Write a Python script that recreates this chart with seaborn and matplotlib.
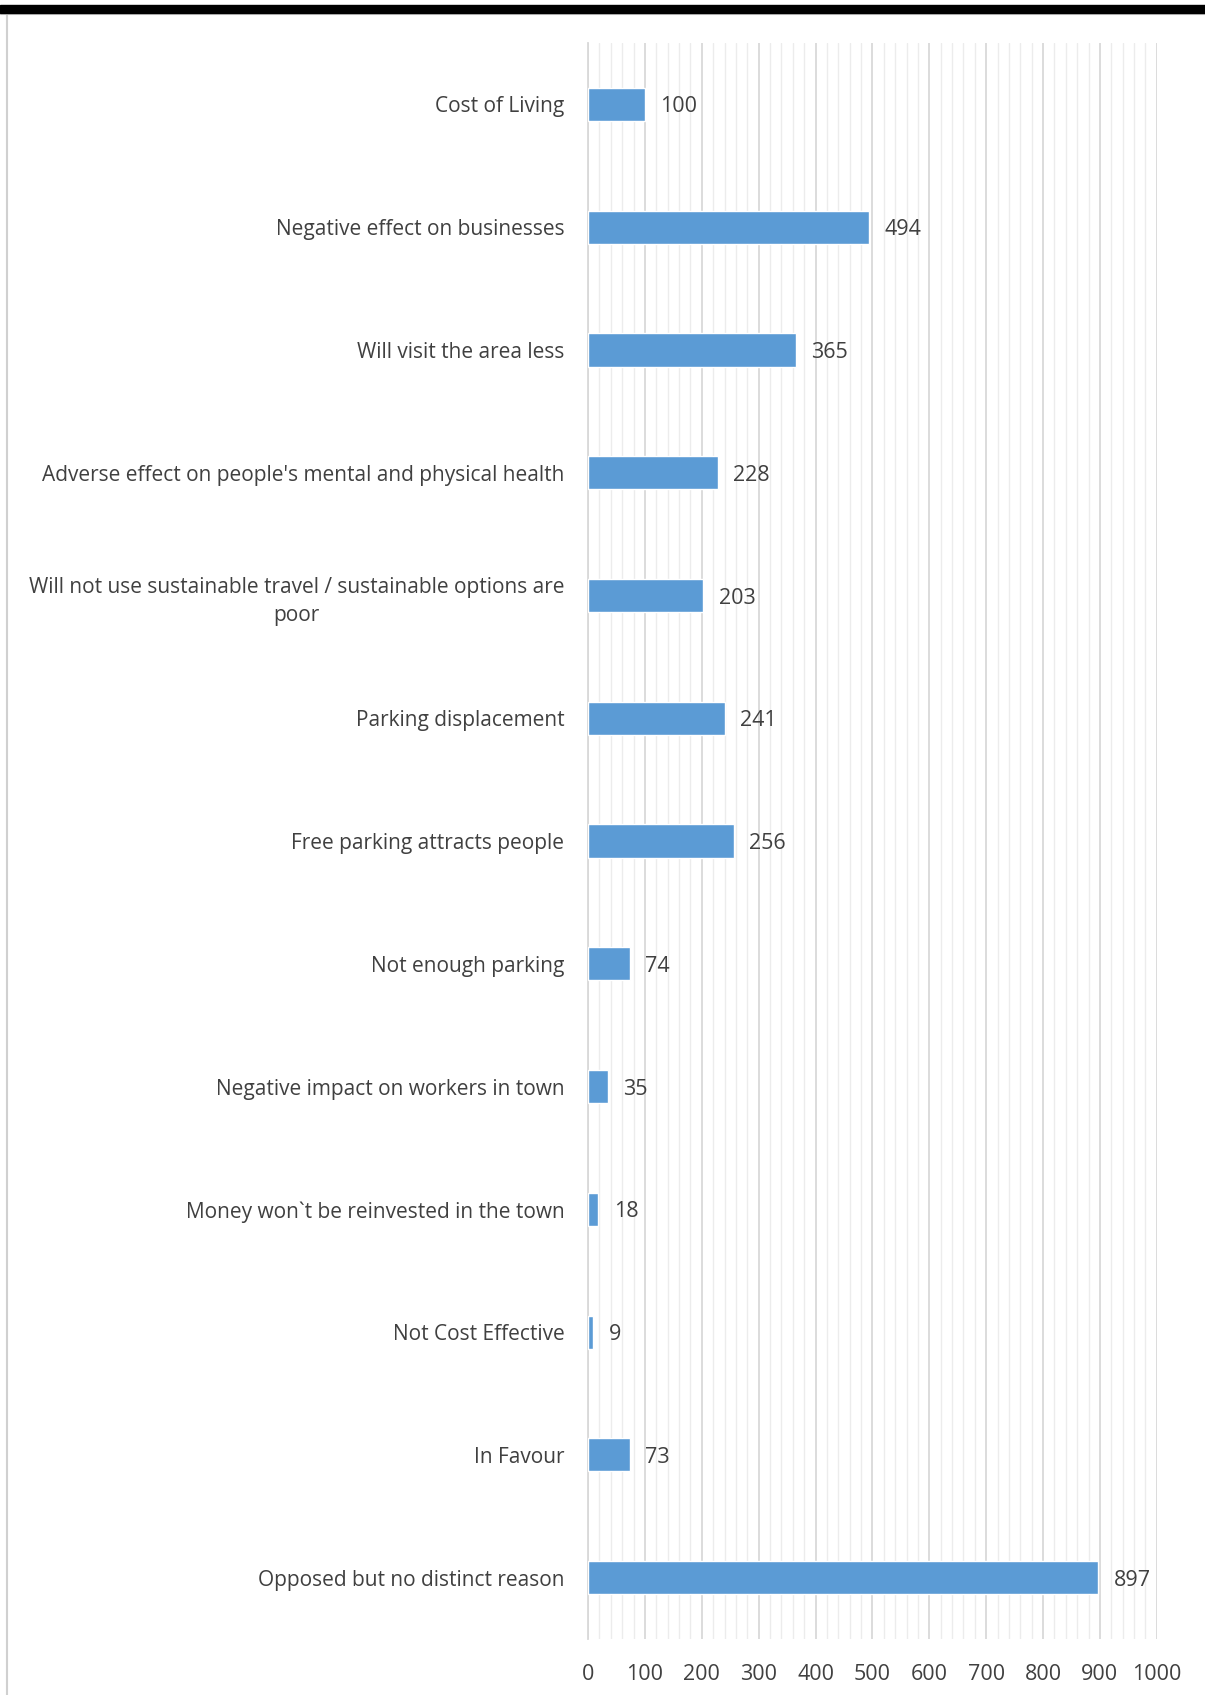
import numpy as np
import pandas as pd
import matplotlib
matplotlib.use("Agg")
import matplotlib.pyplot as plt
from matplotlib.lines import Line2D
from matplotlib.patches import Rectangle
from matplotlib.ticker import MultipleLocator
import seaborn as sns

reasons = [
    "Cost of Living",
    "Negative effect on businesses",
    "Will visit the area less",
    "Adverse effect on people's mental and physical health",
    "Will not use sustainable travel / sustainable options are\npoor",
    "Parking displacement",
    "Free parking attracts people",
    "Not enough parking",
    "Negative impact on workers in town",
    "Money won`t be reinvested in the town",
    "Not Cost Effective",
    "In Favour",
    "Opposed but no distinct reason",
]
counts = [100, 494, 365, 228, 203, 241, 256, 74, 35, 18, 9, 73, 897]
x_ticks = [0, 100, 200, 300, 400, 500, 600, 700, 800, 900, 1000]

df = pd.DataFrame({"reason": reasons, "count": counts})

sns.set_theme(style="white")
plt.rcParams["font.family"] = ["Open Sans", "DejaVu Sans"]

text_col = "#404040"
bar_col = "#5B9BD5"

fig = plt.figure(figsize=(12.05, 16.95), dpi=100)
ax = fig.add_axes([0.488, 0.033, 0.472, 0.9416])

sns.barplot(data=df, x="count", y="reason", orient="h", color=bar_col,
            width=0.27, saturation=1, ax=ax, zorder=3)

ax.set_xlim(0, 1000)
ax.set_ylim(len(reasons) - 0.5, -0.5)
ax.set_xticks(x_ticks)
ax.xaxis.set_minor_locator(MultipleLocator(20))
ax.grid(axis="x", which="major", color="#d9d9d9", linewidth=1.3, zorder=0)
ax.grid(axis="x", which="minor", color="#ececec", linewidth=1.0, zorder=0)
ax.grid(axis="y", visible=False)
ax.set_axisbelow(True)

for s in ["top", "right", "bottom"]:
    ax.spines[s].set_visible(False)
ax.spines["left"].set_color("#d9d9d9")
ax.spines["left"].set_linewidth(1.3)

ax.set_xlabel("")
ax.set_ylabel("")
ax.tick_params(axis="x", which="both", length=0, labelsize=15.5, labelcolor=text_col, pad=18)
ax.tick_params(axis="y", which="major", length=0, labelsize=15, labelcolor=text_col, pad=17)
for lab in ax.get_yticklabels():
    lab.set_multialignment("center")
    lab.set_linespacing(1.45)

ax.set_yticks(np.arange(len(reasons) + 1) - 0.5, minor=True)
ax.tick_params(axis="y", which="minor", length=8, width=1.3, color="#d9d9d9", direction="out")

for i, v in enumerate(counts):
    ax.text(v + 27, i, str(v), va="center_baseline", ha="left", fontsize=15.5, color=text_col)

# frame decorations
fig.add_artist(Rectangle((0, 1 - 13 / 1695), 1, 8 / 1695, transform=fig.transFigure,
                         color="black", zorder=10))
fig.add_artist(Line2D([0, 1], [1 - 14 / 1695] * 2, transform=fig.transFigure,
                      color="#d0d0d0", linewidth=1.5))
fig.add_artist(Line2D([7 / 1205] * 2, [0, 1 - 13 / 1695], transform=fig.transFigure,
                      color="#d0d0d0", linewidth=1.5))

fig.savefig("out.png", dpi=100, facecolor="white")
